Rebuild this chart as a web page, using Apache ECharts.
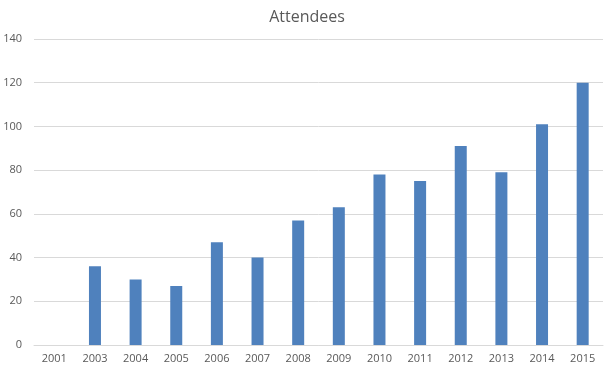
<!DOCTYPE html>
<html>
<head>
<meta charset="utf-8">
<script src="https://cdn.jsdelivr.net/npm/echarts@6/dist/echarts.min.js"></script>
<style>
  html, body { margin: 0; padding: 0; background: #fff; }
  #chart { width: 614px; height: 373px; }
</style>
</head>
<body>
<div id="chart"></div>
<script>
const categories = ['2001','2003','2004','2005','2006','2007','2008','2009','2010','2011','2012','2013','2014','2015'];
const attendees = [null, 36, 30, 27, 47, 40, 57, 63, 78, 75, 91, 79, 101, 120];
const yTicks = { min: 0, max: 140, interval: 20 };

const chart = echarts.init(document.getElementById('chart'), null, { renderer: 'canvas' });
chart.setOption({
  animation: false,
  backgroundColor: '#ffffff',
  title: {
    text: 'Attendees',
    left: 'center',
    top: 4,
    textStyle: { fontFamily: 'Open Sans', fontSize: 16, fontWeight: 'normal', color: '#595959' }
  },
  grid: { left: 34, right: 11, top: 39, bottom: 28, containLabel: false },
  xAxis: {
    type: 'category',
    data: categories,
    axisLine: { show: true, lineStyle: { color: '#d9d9d9', width: 1 } },
    axisTick: { show: false },
    axisLabel: { color: '#595959', fontFamily: 'Open Sans', fontSize: 11, margin: 8 }
  },
  yAxis: {
    type: 'value',
    min: yTicks.min, max: yTicks.max, interval: yTicks.interval,
    axisLine: { show: false },
    axisTick: { show: false },
    splitLine: { lineStyle: { color: '#d9d9d9', width: 1 } },
    axisLabel: { color: '#595959', fontFamily: 'Open Sans', fontSize: 11, margin: 12 }
  },
  series: [{
    type: 'bar',
    data: attendees,
    barWidth: 12,
    itemStyle: { color: '#4f81bd' }
  }]
});
</script>
</body>
</html>
